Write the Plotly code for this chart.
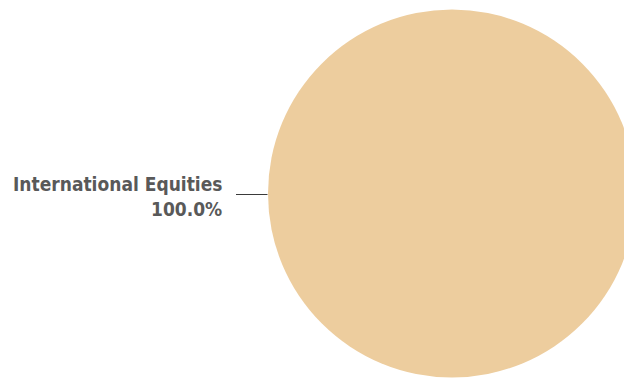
import plotly.graph_objects as go

# Portfolio allocation
labels = ["International Equities"]
weights = [100.0]
colors = ["#EDCD9E"]

W, H = 640, 378
margin = dict(l=268, r=4, t=9, b=0)
plot_w = W - margin["l"] - margin["r"]
plot_h = H - margin["t"] - margin["b"]


def px_x(x):
    return (x - margin["l"]) / plot_w


def px_y(y):
    return 1 - (y - margin["t"]) / plot_h


total = sum(weights)
share = weights[0] / total * 100

fig = go.Figure(
    go.Pie(
        labels=labels,
        values=weights,
        marker=dict(colors=colors, line=dict(width=0)),
        textinfo="none",
        sort=False,
        showlegend=False,
        hovertemplate="%{label}: %{percent}<extra></extra>",
    )
)

# leader line and two-line label to the left of the pie
fig.add_shape(
    type="line", xref="paper", yref="paper",
    x0=px_x(236), x1=px_x(267.5), y0=px_y(194.5), y1=px_y(194.5),
    line=dict(color="#3a3a3a", width=1),
)
label_font = dict(family="DejaVu Sans Condensed, sans-serif", size=19,
                  color="#595959", weight="bold")
for txt, yc in [(labels[0], 183.6), (f"{share:.1f}%", 208.6)]:
    fig.add_annotation(
        xref="paper", yref="paper",
        x=px_x(223), y=px_y(yc),
        xanchor="right", yanchor="middle", align="right",
        text=txt, showarrow=False, borderpad=0,
        font=label_font,
    )

fig.update_layout(
    width=W, height=H,
    margin=margin,
    paper_bgcolor="white",
    plot_bgcolor="white",
)

fig.write_html("out.html", post_script="document.body.style.overflow='hidden';")
